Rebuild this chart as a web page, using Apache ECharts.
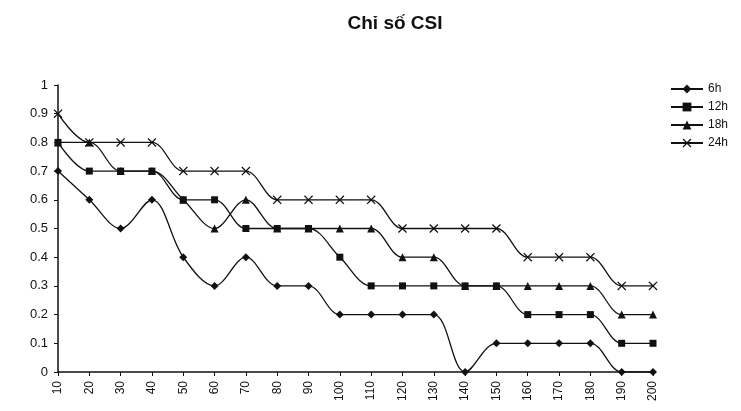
<!DOCTYPE html>
<html><head><meta charset="utf-8">
<script src="https://cdn.jsdelivr.net/npm/echarts@6/dist/echarts.min.js"></script>
<style>html,body{margin:0;padding:0;background:#fff}#c{width:741px;height:411px}</style>
</head><body><div id="c"></div>
<script>
const categories = ['10','20','30','40','50','60','70','80','90','100','110','120','130','140','150','160','170','180','190','200'];
const s6h  = [0.7,0.6,0.5,0.6,0.4,0.3,0.4,0.3,0.3,0.2,0.2,0.2,0.2,0,0.1,0.1,0.1,0.1,0,0];
const s12h = [0.8,0.7,0.7,0.7,0.6,0.6,0.5,0.5,0.5,0.4,0.3,0.3,0.3,0.3,0.3,0.2,0.2,0.2,0.1,0.1];
const s18h = [0.8,0.8,0.7,0.7,0.6,0.5,0.6,0.5,0.5,0.5,0.5,0.4,0.4,0.3,0.3,0.3,0.3,0.3,0.2,0.2];
const s24h = [0.9,0.8,0.8,0.8,0.7,0.7,0.7,0.6,0.6,0.6,0.6,0.5,0.5,0.5,0.5,0.4,0.4,0.4,0.3,0.3];
const seriesNames = ['6h','12h','18h','24h'];
const yTicks = ['0','0.1','0.2','0.3','0.4','0.5','0.6','0.7','0.8','0.9','1'];

const FONT = '"Liberation Sans", Arial, sans-serif';
const xSym = 'path://M0,1 L1,0 L5,4 L9,0 L10,1 L6,5 L10,9 L9,10 L5,6 L1,10 L0,9 L4,5 Z';
const symbols = ['diamond','rect','triangle',xSym];
const sizes = [8,7,8,9];
const datas = [s6h,s12h,s18h,s24h];

const chart = echarts.init(document.getElementById('c'), null, {renderer:'canvas'});
chart.setOption({
  backgroundColor:'#fff',
  animation:false,
  title:{text:'Chỉ số CSI', left:390, top:9, textAlign:'center',
    textStyle:{fontFamily:FONT, fontSize:19, fontWeight:'bold', color:'#111'}},
  legend:{orient:'vertical', right:8, top:78, itemGap:6, itemWidth:32, itemHeight:11,
    data:seriesNames, textStyle:{fontFamily:FONT, fontSize:12, color:'#111'}},
  grid:{left:58, right:88, top:85, bottom:39, containLabel:false},
  xAxis:{type:'category', data:categories, boundaryGap:false,
    axisLine:{lineStyle:{color:'#111', width:1.5}},
    axisTick:{show:true, length:4, alignWithLabel:true, lineStyle:{color:'#111'}},
    axisLabel:{rotate:90, fontFamily:FONT, fontSize:12, color:'#111', margin:9, interval:0},
    splitLine:{show:false}},
  yAxis:{type:'value', min:0, max:1, interval:0.1,
    axisLine:{show:true, lineStyle:{color:'#111', width:1.5}},
    axisTick:{show:true, length:4, lineStyle:{color:'#111'}},
    axisLabel:{fontFamily:FONT, fontSize:13, color:'#111', margin:10,
      formatter:(v)=>yTicks[Math.round(v*10)]},
    splitLine:{show:false}},
  series: seriesNames.map((n,i)=>({
    name:n, type:'line', data:datas[i], smooth:0.35,
    symbol:symbols[i], symbolSize:sizes[i], showSymbol:true,
    lineStyle:{color:'#111', width:1.3},
    itemStyle:{color:'#111'}
  }))
});
</script></body></html>
